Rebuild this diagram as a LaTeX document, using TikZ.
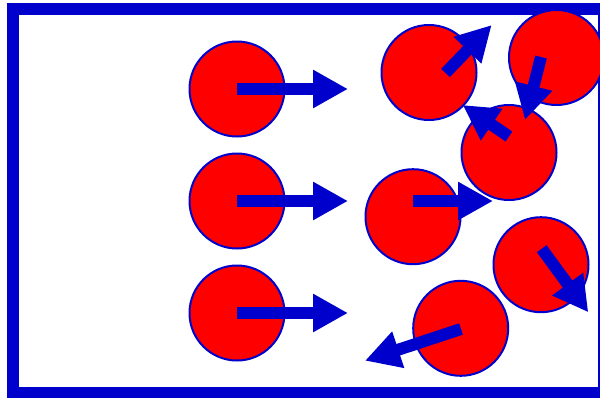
\documentclass[tikz,border=0pt]{standalone}
\usetikzlibrary{arrows.meta}
\definecolor{frameblue}{RGB}{0,0,204}
\definecolor{ballred}{RGB}{255,0,0}
\tikzset{
  ball/.style={circle, draw=frameblue, fill=ballred, line width=2pt, minimum size=95pt, inner sep=0pt},
  vel/.style={draw=frameblue, line width=12pt, -{Triangle[length=35pt,width=36pt]}},
  wall/.style={draw=frameblue, line width=12pt}
}
\begin{document}
\begin{tikzpicture}[x=1pt,y=-1pt]
\useasboundingbox (0,0) rectangle (600,397);
\clip (0,0) rectangle (600,397);
\fill[white] (0,0) rectangle (600,397);
\draw[wall] (13,9) rectangle (604,392.7);
% balls
\node[ball] (L1) at (237,89) {};
\node[ball] (L2) at (237,201) {};
\node[ball] (L3) at (237,313) {};
\node[ball] (A) at (429,72.5) {};
\node[ball] (B) at (556.5,57.5) {};
\node[ball] (C) at (509,152.5) {};
\node[ball] (D) at (413,216.7) {};
\node[ball] (E) at (541,264.7) {};
\node[ball] (F) at (460.7,328.3) {};
% arrow ends
\coordinate (tL1) at (348,89);
\coordinate (tL2) at (348,201);
\coordinate (tL3) at (348,313);
\coordinate (sA) at (445.5,73);
\coordinate (tA) at (491.7,25);
\coordinate (sB) at (541,57);
\coordinate (tB) at (525,120);
\coordinate (sC) at (509,136.5);
\coordinate (tC) at (462.7,105);
\coordinate (sD) at (413.3,201);
\coordinate (tD) at (493,201);
\coordinate (sE) at (541.7,248.7);
\coordinate (tE) at (588.3,312.3);
\coordinate (sF) at (461,329);
\coordinate (tF) at (365,360.7);
% velocity arrows
\draw[vel] (L1.center) -- (tL1);
\draw[vel] (L2.center) -- (tL2);
\draw[vel] (L3.center) -- (tL3);
\draw[vel] (sA) -- (tA);
\draw[vel] (sB) -- (tB);
\draw[vel] (sC) -- (tC);
\draw[vel] (sD) -- (tD);
\draw[vel] (sE) -- (tE);
\draw[vel] (sF) -- (tF);
\end{tikzpicture}
\end{document}
